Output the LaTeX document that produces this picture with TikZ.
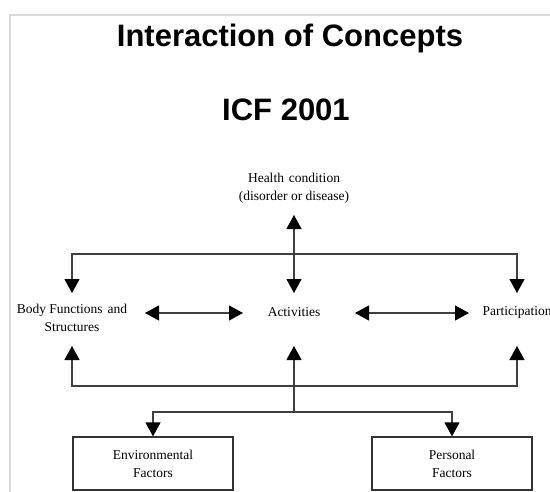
\documentclass[tikz,border=0pt]{standalone}
\usepackage{fontspec}
\setmainfont{Liberation Serif}
\newfontfamily\headfont{Liberation Sans}
\usetikzlibrary{arrows.meta}
\begin{document}
\begin{tikzpicture}[x=1pt,y=-1pt,
  lbl/.style={font=\fontsize{13.5}{18}\selectfont, align=center, inner sep=0pt, anchor=base},
  ttl/.style={font=\headfont\bfseries\fontsize{31}{36}\selectfont, inner sep=0pt, anchor=base},
  ln/.style={draw=black!75, line width=1.2pt},
  tip/.style={-{Triangle[length=14pt,width=15pt,color=black]}},
  dtip/.style={{Triangle[length=14pt,width=15pt,color=black]}-{Triangle[length=14pt,width=15pt,color=black]}},
  fbox/.style={draw=black!80, line width=1.2pt, minimum width=160pt, minimum height=53pt,
    inner sep=0pt, font=\fontsize{13.5}{18}\selectfont, align=center},
  frame/.style={draw=black!15, line width=2pt}
]
\useasboundingbox (0,0) rectangle (550,491);
\clip (0,0) rectangle (550,491);
\fill[white] (0,0) rectangle (550,491);
\draw[frame] (9.5,495) -- (9.5,15) -- (555,15);

% titles
\node[ttl] (title) at (290,46) {Interaction of Concepts};
\node[ttl] (icf) at (286,120) {ICF 2001};

% concept nodes
\node[lbl, anchor=north] (hc) at (294,173) {Health\hspace{0.37em}condition\\(disorder or disease)};
\node[lbl, anchor=north] (body) at (72,304) {Body Functions\hspace{0.37em}and\\Structures};
\node[lbl] (act) at (294,316) {Activities};
\node[lbl] (par) at (517,315) {Participation};
\node[fbox] (env) at (153,463.5) {Environmental\\Factors};
\node[fbox] (pers) at (452,463.5) {Personal\\Factors};

% junction coordinates
\coordinate (hcTip) at (294,215);
\coordinate (actTop) at (294,293);
\coordinate (topL) at (72,254);
\coordinate (topR) at (517,254);
\coordinate (bodyTop) at (72,293);
\coordinate (parTop) at (517,293);
\coordinate (bodyBot) at (72,346);
\coordinate (actBot) at (294,346);
\coordinate (parBot) at (517,346);
\coordinate (botL) at (72,386);
\coordinate (botR) at (517,386);
\coordinate (fac) at (294,412);
\coordinate (facL) at (153,412);
\coordinate (facR) at (452,412);
\coordinate (a1L) at (145,313);
\coordinate (a1R) at (243,313);
\coordinate (a2L) at (355,313);
\coordinate (a2R) at (469,313);

% top distribution
\draw[ln,dtip] (hcTip) -- (actTop);
\draw[ln,tip] (topR) -- (topL) -- (bodyTop);
\draw[ln,tip] (topL) -- (topR) -- (parTop);

% horizontal interactions
\draw[ln,dtip] (a1L) -- (a1R);
\draw[ln,dtip] (a2L) -- (a2R);

% bottom distribution
\draw[ln,tip] (botR) -- (botL) -- (bodyBot);
\draw[ln,tip] (botL) -- (botR) -- (parBot);
\draw[ln,tip] (fac) -- (actBot);
\draw[ln,tip] (facR) -- (facL) -- (env.north);
\draw[ln,tip] (facL) -- (facR) -- (pers.north);
\end{tikzpicture}
\end{document}
